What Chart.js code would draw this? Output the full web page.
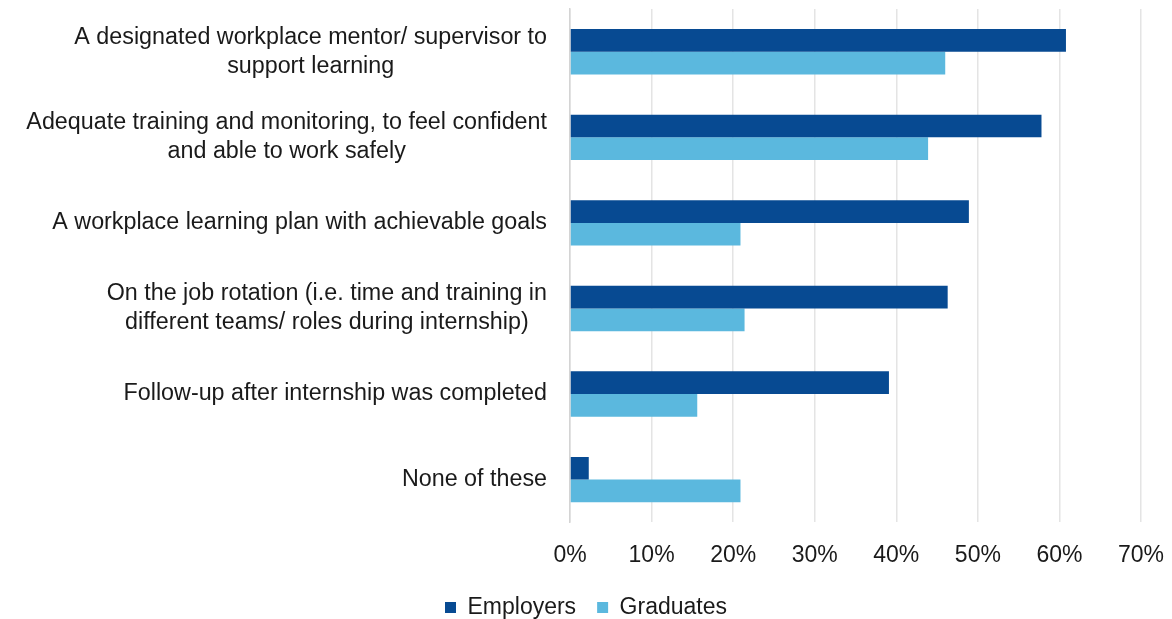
<!DOCTYPE html>
<html>
<head>
<meta charset="utf-8">
<script src="https://cdn.jsdelivr.net/npm/chart.js@4"></script>
<style>
  html, body { margin: 0; padding: 0; background: #fff; }
  #wrap { width: 1172px; height: 619px; }
</style>
</head>
<body>
<div id="wrap"><canvas id="chart"></canvas></div>
<script>
const categories = [
  ["A designated workplace mentor/ supervisor to", "support learning"],
  ["Adequate training and monitoring, to feel confident", "and able to work safely"],
  ["A workplace learning plan with achievable goals"],
  ["On the job rotation (i.e. time and training in", "different teams/ roles during internship)"],
  ["Follow-up after internship was completed"],
  ["None of these"],
];
const employers = [60.8, 57.8, 48.9, 46.3, 39.1, 2.3];
const graduates = [46.0, 43.9, 20.9, 21.4, 15.6, 20.9];
const x_ticks = [0, 10, 20, 30, 40, 50, 60, 70];

const font_family = "'Liberation Sans', Arial, sans-serif";
const text_color = "#1a1a1a";

// y labels: each block centred, right edge just left of the axis
const center_labels = {
  id: "center_labels",
  afterDraw(chart) {
    const y_axis = chart.scales.y;
    const c = chart.ctx;
    const size = 23.3;
    const line_h = 29;
    c.save();
    c.font = size + "px " + font_family;
    c.fillStyle = text_color;
    c.textAlign = "center";
    c.textBaseline = "middle";
    categories.forEach((lines, i) => {
      const y_mid = y_axis.getPixelForTick(i);
      const w = Math.max(...lines.map((l) => c.measureText(l).width));
      const x_mid = chart.chartArea.left - 23 - w / 2;
      lines.forEach((l, k) => {
        c.fillText(l, x_mid, y_mid + (k - (lines.length - 1) / 2) * line_h);
      });
    });
    c.restore();
  },
};

document.addEventListener("DOMContentLoaded", () => {
  const ctx = document.getElementById("chart");
  new Chart(ctx, {
    type: "bar",
    data: {
      labels: categories.map((l) => l.join(" ")),
      datasets: [
        {
          label: "Employers",
          data: employers,
          backgroundColor: "#074a92",
          barPercentage: 1,
          categoryPercentage: 0.53,
        },
        {
          label: "Graduates",
          data: graduates,
          backgroundColor: "#5bb8de",
          barPercentage: 1,
          categoryPercentage: 0.53,
        },
      ],
    },
    plugins: [center_labels],
    options: {
      indexAxis: "y",
      responsive: true,
      maintainAspectRatio: false,
      animation: false,
      layout: { padding: { top: 9, right: 0, left: 0, bottom: -10 } },
      plugins: {
        tooltip: { enabled: false },
        legend: {
          position: "bottom",
          labels: {
            color: text_color,
            font: { family: font_family, size: 23 },
            boxWidth: 11,
            boxHeight: 11,
            padding: 21,
          },
        },
      },
      scales: {
        x: {
          min: 0,
          max: 70,
          afterBuildTicks: (axis) => {
            axis.ticks = x_ticks.map((v) => ({ value: v }));
          },
          afterFit: (axis) => {
            axis.height -= 13;
            axis.paddingRight = 31;
          },
          grid: { color: "#e4e4e4", lineWidth: 1.5, drawTicks: false },
          border: { display: false },
          ticks: {
            color: text_color,
            padding: 19,
            font: { family: font_family, size: 23 },
            callback: (v) => v + "%",
          },
        },
        y: {
          afterFit: (axis) => {
            axis.width = 570;
          },
          grid: { display: false },
          border: { color: "#d4d4d4", width: 1.5 },
          ticks: { display: false },
        },
      },
    },
  });
});
</script>
</body>
</html>
